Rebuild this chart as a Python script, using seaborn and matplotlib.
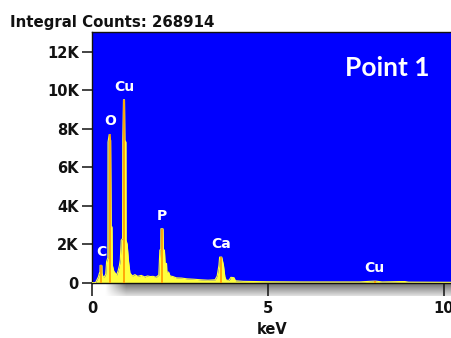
import numpy as np
import pandas as pd
import matplotlib
matplotlib.use("Agg")
import matplotlib.pyplot as plt
import seaborn as sns

# ---------------- data ----------------
title = "Integral Counts: 268914"
point_label = "Point 1"
x_label = "keV"

energy = [0.00, 0.10, 0.14, 0.18, 0.21, 0.225, 0.23, 0.28, 0.285, 0.31, 0.35, 0.39,
          0.415, 0.45, 0.455, 0.49, 0.53, 0.545, 0.57, 0.58, 0.62, 0.66, 0.70, 0.74,
          0.78, 0.805, 0.83, 0.87, 0.875, 0.895, 0.925, 0.935, 0.965, 0.97, 1.00, 1.04,
          1.08, 1.15, 1.22, 1.30, 1.40, 1.50, 1.58, 1.66, 1.74, 1.82, 1.90, 1.93,
          1.955, 1.96, 2.02, 2.03, 2.06, 2.08, 2.12, 2.13, 2.18, 2.22, 2.30, 2.40,
          2.55, 2.70, 2.90, 3.10, 3.30, 3.50, 3.56, 3.61, 3.63, 3.69, 3.74, 3.78,
          3.82, 3.90, 3.95, 4.04, 4.08, 4.30, 5.00, 6.00, 7.00, 7.60, 7.80, 8.00,
          8.08, 8.25, 8.80, 8.90, 9.00, 10.30]
counts = [0, 0, 150, 300, 500, 500, 900, 900, 500, 320, 300, 450,
          1100, 1300, 7300, 7700, 7400, 2900, 2900, 900, 600, 500, 400, 600,
          900, 1200, 2200, 2300, 7400, 9500, 9500, 7400, 7300, 2200, 2000, 1100,
          500, 350, 420, 330, 380, 300, 350, 320, 330, 280, 400, 1700,
          1700, 2800, 2800, 1700, 1700, 1000, 1000, 550, 550, 350, 320, 250,
          240, 200, 180, 150, 130, 150, 350, 900, 1330, 1330, 900, 300,
          120, 130, 280, 260, 100, 70, 50, 40, 40, 40, 60, 80,
          80, 40, 60, 60, 30, 20]

peak_elements = ["C", "O", "Cu", "P", "Ca", "Cu"]
peak_energy = [0.256, 0.505, 0.91, 1.99, 3.66, 8.04]
peak_counts = [900, 7700, 9500, 2800, 1330, 80]

ytick_values = [0, 2000, 4000, 6000, 8000, 10000, 12000]
ytick_labels = ["0", "2K", "4K", "6K", "8K", "10K", "12K"]
xtick_values = [0, 5, 10]
xtick_labels = ["0", "5", "10"]

# ---------------- style ----------------
sns.set_theme(style="white")
plt.rcParams["font.family"] = ["DejaVu Sans"]

W, H = 452, 338
fig = plt.figure(figsize=(W / 100, H / 100), dpi=100)
fig.patch.set_facecolor("white")

# gray shadow band under the x axis
band = fig.add_axes([105 / W, (H - 296) / H, (W - 105) / W, 13 / H], zorder=0)
gy = np.linspace(0, 1, 40)[:, None]
gx = np.clip(np.linspace(0, 1, 400)[None, :] / 0.06, 0, 1)
shade = 1 - (0.45 * (1 - gy) + 0.12) * gx
band.imshow(shade, cmap="gray", vmin=0, vmax=1, aspect="auto", extent=[0, 1, 0, 1])
band.axis("off")

ax = fig.add_axes([92 / W, (H - 282.7) / H, (W - 92) / W, (282.7 - 32) / H], zorder=1)
ax.set_facecolor("#0000FF")

df = pd.DataFrame({"keV": energy, "counts": counts})
ax.fill_between(df["keV"], df["counts"], color="#FFFF3C", lw=0, zorder=2)
sns.lineplot(data=df, x="keV", y="counts", ax=ax, color="#FFFF3C", lw=0.8, zorder=3)
ax.vlines(peak_energy, 0, peak_counts, color="#FF9A00", lw=1.2, zorder=4)

for el, e, c in zip(peak_elements, peak_energy, peak_counts):
    ax.annotate(el, (e, c), xytext=(0, 13), textcoords="offset pixels",
                ha="center", va="center", color="white", fontsize=10,
                fontweight="bold", zorder=5)

ax.set_xlim(0, 10.24)
ax.set_ylim(0, 13020)
ax.set_xticks(xtick_values)
ax.set_xticklabels(xtick_labels)
ax.set_yticks(ytick_values)
ax.set_yticklabels(ytick_labels)
ax.set_xlabel(x_label, fontsize=10.5, fontweight="bold", color="#111111", labelpad=4)
ax.set_ylabel("")

ax.spines["right"].set_visible(False)
for s in ["left", "bottom", "top"]:
    ax.spines[s].set_visible(True)
    ax.spines[s].set_color("#111111")
    ax.spines[s].set_linewidth(1.0)

ax.tick_params(axis="y", direction="out", length=7.5, width=1.1, color="#111111",
               pad=2, labelsize=10.5, labelcolor="#111111", left=True)
ax.tick_params(axis="x", direction="out", length=9.5, width=1.1, color="#111111",
               pad=4, labelsize=10.5, labelcolor="#111111", bottom=True)
for lab in ax.get_xticklabels() + ax.get_yticklabels():
    lab.set_fontweight("bold")

fig.text(10 / W, (H - 26.5) / H, title, ha="left", va="baseline",
         fontsize=10.8, fontweight="bold", color="#111111")
fig.text(345 / W, (H - 76) / H, point_label, ha="left", va="baseline",
         fontsize=19, fontweight="bold", color="white", family=["Lato", "DejaVu Sans"])

fig.savefig("out.png", dpi=100)
